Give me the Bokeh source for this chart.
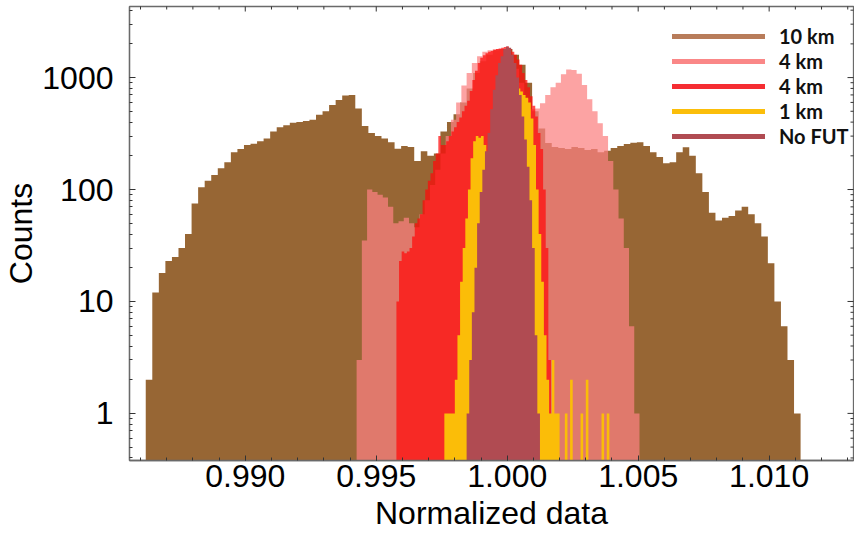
import numpy as np
from bokeh.plotting import figure
from bokeh.models import (Range1d, FixedTicker, PrintfTickFormatter,
                          Legend, LegendItem)
from bokeh.embed import file_html
from bokeh.resources import INLINE

# ---------------- data ----------------
series_labels = ["10 km", "4 km", "4 km", "1 km", "No FUT"]

# 10 km  (brown)
km10_start, km10_width = 0.98620, 0.00025
km10_counts = [2, 12, 18, 23, 25, 30, 40, 75, 105, 120,
               135, 155, 175, 215, 230, 250, 257, 270, 285, 330,
               360, 375, 395, 400, 410, 420, 465, 500, 570, 630,
               690, 700, 530, 370, 320, 300, 285, 265, 231, 245,
               240, 180, 220, 200, 210, 330, 400, 470, 600, 800,
               1100, 1400, 1600, 1750, 1800, 1800, 1600, 1300, 900, 500,
               350, 260, 240, 235, 230, 240, 235, 225, 230, 215,
               222, 235, 245, 255, 262, 265, 245, 215, 195, 172,
               175, 215, 238, 200, 140, 95, 62, 53, 56, 58,
               65, 70, 60, 50, 38, 22, 10, 6, 3, 1]

# 4 km  (pink)
km4a_start, km4a_width = 0.99425, 0.0002
km4a_counts = [3, 35, 100, 95, 90, 85, 70, 50, 52, 56,
               50, 46, 60, 80, 110, 150, 210, 300, 420, 600,
               850, 1100, 1350, 1550, 1700, 1750, 1800, 1800, 1750, 1500,
               1200, 900, 650, 520, 530, 590, 700, 820, 900, 1070,
               1180, 1170, 1080, 860, 640, 500, 390, 300, 180, 100,
               55, 30, 6, 1]

# 4 km  (red)
km4b_start, km4b_width = 0.99577, 0.0001
km4b_counts = [10, 23, 28, 27, 28, 30, 38, 50, 55, 60,
               80, 100, 120, 140, 180, 210, 300, 250, 250, 270,
               300, 330, 360, 400, 440, 500, 560, 620, 760, 950,
               1150, 1350, 1500, 1580, 1650, 1700, 1730, 1760, 1800, 1820,
               1850, 1880, 1900, 1800, 1700, 1600, 1450, 1300, 1100, 950,
               820, 680, 560, 450, 320, 230, 100, 30, 3]

# 1 km  (yellow)
km1_start, km1_width = 0.9976, 0.0001
km1_counts = [1, 1, 1, 1, 2, 5, 15, 30, 55, 100,
              190, 270, 300, 290, 300, 250, 160, 200, 300, 400,
              500, 600, 700, 800, 850, 900, 900, 850, 800, 750,
              700, 660, 600, 430, 250, 100, 40, 15, 5, 2,
              1, 3, 1, 1, 0, 0, 1, 0, 2, 0,
              0, 0, 1, 0, 2, 0, 0, 0, 0, 0,
              1, 0, 1]

# No FUT  (maroon)
nofut_start, nofut_width = 0.99845, 0.0001
nofut_counts = [1, 3, 8, 20, 50, 95, 150, 220, 320, 520,
                780, 1050, 1350, 1550, 1800, 1900, 1850, 1600, 1350, 1000,
                700, 450, 280, 160, 80, 30, 5, 1]

x_major_ticks = [0.990, 0.995, 1.000, 1.005, 1.010]
y_major_ticks = [1, 10, 100, 1000]

# ---------------- styling ----------------
fill_colors = ["#976634", "#FB8181", "#FF0A0A", "#FBBD08", "#B04B52"]
fill_alphas = [1.0, 0.73, 0.72, 1.0, 1.0]
legend_colors = ["#B87C5A", "#FA8787", "#F52D32", "#FBBE0A", "#B04B52"]
BASE = 0.05
X0, X1 = 0.98558, 1.01322
Y0, Y1 = 0.3795, 4315


def step_outline(start, width, counts):
    xs, ys = [start], [BASE]
    for i, c in enumerate(counts):
        left = start + i * width
        right = left + width
        h = c if c > 0 else BASE
        xs += [left, right]
        ys += [h, h]
    xs.append(start + len(counts) * width)
    ys.append(BASE)
    return xs, ys


p = figure(width=854, height=543, output_backend="svg", toolbar_location=None,
           x_range=Range1d(X0, X1), y_range=Range1d(Y0, Y1),
           y_axis_type="log",
           min_border_left=127, min_border_right=1, min_border_top=6,
           min_border_bottom=83)
p.outline_line_color = "#6a6a6a"
p.outline_line_width = 1.3
p.grid.visible = False
p.background_fill_color = "white"
p.border_fill_color = "white"

series = [(km10_start, km10_width, km10_counts),
          (km4a_start, km4a_width, km4a_counts),
          (km4b_start, km4b_width, km4b_counts),
          (km1_start, km1_width, km1_counts),
          (nofut_start, nofut_width, nofut_counts)]

for (st, w, cts), col, a in zip(series, fill_colors, fill_alphas):
    xs, ys = step_outline(st, w, cts)
    p.patch(xs, ys, fill_color=col, fill_alpha=a, line_color=None)

# ---------------- axes ----------------
x_minor = [round(0.986 + 0.001 * i, 3) for i in range(28)]
y_minor = []
for d in [0.1, 1, 10, 100, 1000]:
    for k in range(2, 10):
        y_minor.append(k * d)

xticker = FixedTicker(ticks=x_major_ticks, minor_ticks=x_minor)
yticker = FixedTicker(ticks=y_major_ticks, minor_ticks=y_minor)


def style_axis(ax, tin=6, mtin=3):
    ax.axis_line_color = "#6a6a6a"
    ax.axis_line_width = 1.3
    ax.major_tick_line_color = "#333333"
    ax.minor_tick_line_color = "#333333"
    ax.major_tick_in = tin
    ax.major_tick_out = 0
    ax.minor_tick_in = mtin
    ax.minor_tick_out = 0


xa = p.xaxis[0]
xa.ticker = xticker
xa.formatter = PrintfTickFormatter(format="%.3f")
xa.axis_label = "Normalized data"
style_axis(xa, 5, 3)
xa.major_label_text_font = "Liberation Sans"
xa.major_label_text_font_size = "32px"
xa.major_label_text_color = "black"
xa.major_label_standoff = 4
xa.axis_label_text_font = "Liberation Sans"
xa.axis_label_text_font_size = "32px"
xa.axis_label_text_font_style = "normal"
xa.axis_label_text_color = "black"
xa.axis_label_standoff = 5

ya = p.yaxis[0]
ya.ticker = yticker
ya.formatter = PrintfTickFormatter(format="%d")
ya.axis_label = "Counts"
style_axis(ya, 6, 3)
ya.major_label_text_font = "Liberation Sans"
ya.major_label_text_font_size = "32px"
ya.major_label_text_color = "black"
ya.major_label_standoff = 16
ya.axis_label_text_font = "Liberation Sans"
ya.axis_label_text_font_size = "32px"
ya.axis_label_text_font_style = "normal"
ya.axis_label_text_color = "black"
ya.axis_label_standoff = 0

# frame ticks on top and right (inward, clipped to the frame)
x_maj_in = [t for t in x_major_ticks]
x_min_in = [t for t in x_minor if X0 < t < X1 and t not in x_major_ticks]
y_min_in = [t for t in y_minor if Y0 < t < Y1]
p.scatter(x=x_maj_in, y=[Y1] * len(x_maj_in), marker="dash", size=10,
          angle=np.pi / 2, line_color="#333333", line_width=1)
p.scatter(x=x_min_in, y=[Y1] * len(x_min_in), marker="dash", size=6,
          angle=np.pi / 2, line_color="#333333", line_width=1)
p.scatter(x=[X1] * len(y_major_ticks), y=y_major_ticks, marker="dash",
          size=12, line_color="#333333", line_width=1)
p.scatter(x=[X1] * len(y_min_in), y=y_min_in, marker="dash", size=6,
          line_color="#333333", line_width=1)

# ---------------- legend (key lines only; their data lie off the frame) ----
leg_renderers = [p.line(x=[X1 + 1, X1 + 2], y=[1.0, 1.0], line_color=c,
                        line_width=5, line_cap="round")
                 for c in legend_colors]
legend = Legend(items=[LegendItem(label=lab, renderers=[r])
                       for lab, r in zip(series_labels, leg_renderers)],
                location=(543, 312), glyph_width=93, glyph_height=24,
                label_height=24, spacing=1, padding=0, margin=0,
                label_standoff=14, background_fill_alpha=0,
                border_line_alpha=0, label_text_font="Lato",
                label_text_font_style="bold", label_text_font_size="20px",
                label_text_color="#111111")
p.add_layout(legend)

open("out.html", "w").write(file_html(p, INLINE))
